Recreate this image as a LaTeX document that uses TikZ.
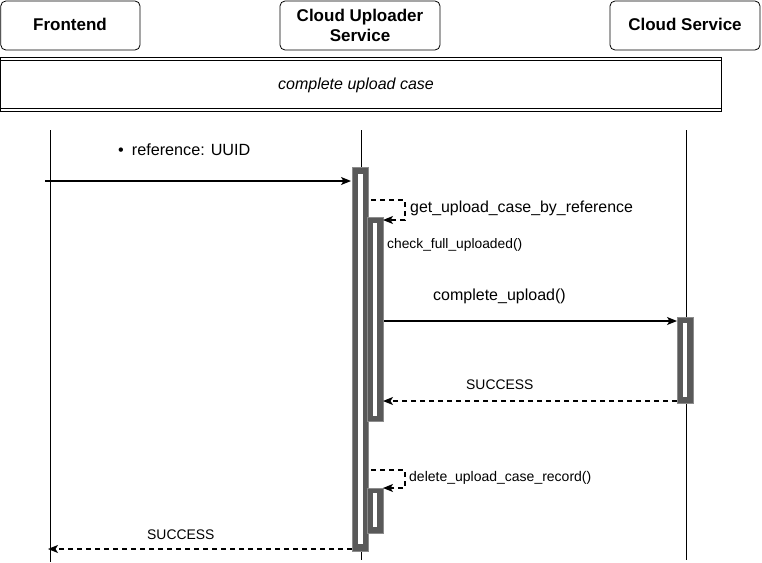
\documentclass[tikz,border=0pt]{standalone}
\usepackage{fontspec}
\setmainfont{Liberation Sans}
\usetikzlibrary{arrows.meta}
\definecolor{bardark}{HTML}{595959}
\definecolor{baredge}{HTML}{8C8C8C}
\tikzset{
  head/.style={draw=black, line width=0.8pt, rounded corners=5pt, fill=white},
  headtxt/.style={font=\fontsize{17}{20}\selectfont\bfseries, align=center},
  life/.style={draw=black, line width=0.8pt},
  msg/.style={draw=black, line width=1.2pt, -{Stealth[length=10pt,width=8pt,inset=2.5pt]}},
  ret/.style={msg, dash pattern=on 5pt off 4pt},
  lbl/.style={inner sep=0pt, anchor=west},
  barout/.style={fill=bardark, draw=baredge, line width=0.6pt},
  barin/.style={fill=white, draw=none},
}
\begin{document}
\begin{tikzpicture}[x=1pt,y=-1pt]
\useasboundingbox (0,0) rectangle (762,562);
% header boxes
\draw[head] (0.8,1) rectangle (140,50);
\node[headtxt] (fe) at (70,24.5) {Frontend};
\draw[head] (280,1) rectangle (440,50);
\node[headtxt] (cu) at (360,25) {Cloud Uploader\\Service};
\draw[head] (610,1) rectangle (760,50);
\node[headtxt] (cs) at (685,24.5) {Cloud Service};
% frame
\draw[line width=0.8pt] (0.5,57) -- (721,57);
\draw[line width=0.8pt] (0.5,60.5) -- (721,60.5);
\draw[line width=0.8pt] (0.5,108) -- (721,108);
\draw[line width=0.8pt] (0.5,111.5) -- (721,111.5);
\draw[line width=0.8pt] (0.5,57) -- (0.5,111.5);
\draw[line width=0.8pt] (721,57) -- (721,111.5);
\node[font=\fontsize{16}{18}\selectfont\itshape] (frame) at (356,85) {complete upload case};
% lifelines
\coordinate (feT) at (50,130); \coordinate (feB) at (50,562);
\coordinate (cuT) at (361,130); \coordinate (cuB) at (361,560);
\coordinate (csT) at (686,130); \coordinate (csB) at (686,560);
\draw[life] (feT) -- (feB);
\draw[life] (cuT) -- (cuB);
\draw[life] (csT) -- (csB);
% activation bars
\draw[barout] (352,167) rectangle (368,551);
\fill[barin] (358,174) rectangle (363,544);
\draw[barout] (367,217) rectangle (383,421);
\fill[barin] (373,223) rectangle (377,416);
\draw[barout] (367,488) rectangle (383,533);
\fill[barin] (373,493) rectangle (377,527);
\draw[barout] (677,317) rectangle (693,403);
\fill[barin] (683,323) rectangle (687,397);
% coordinates for message ends
\coordinate (m1s) at (45,181); \coordinate (m1e) at (351,181);
\coordinate (s1a) at (371,200); \coordinate (s1b) at (405,200);
\coordinate (s1c) at (405,220); \coordinate (s1d) at (383,220);
\coordinate (m2s) at (384,321); \coordinate (m2e) at (677,321);
\coordinate (r1s) at (677,401); \coordinate (r1e) at (383,401);
\coordinate (s2a) at (371,470); \coordinate (s2b) at (405,470);
\coordinate (s2c) at (405,488); \coordinate (s2d) at (383,488);
\coordinate (r2s) at (352,549); \coordinate (r2e) at (48,549);
% messages
\draw[msg] (m1s) -- (m1e);
\node[lbl, font=\fontsize{16.2}{18}\selectfont] (l1) at (118,150) {\textbullet\hspace{8pt}reference: UUID};
\draw[ret] (s1a) -- (s1b) -- (s1c) -- (s1d);
\node[lbl, font=\fontsize{15.9}{18}\selectfont] (l2) at (410,208) {get\_upload\_case\_by\_reference};
\node[lbl, font=\fontsize{13.8}{16}\selectfont] (l3) at (387,245) {check\_full\_uploaded()};
\draw[msg] (m2s) -- (m2e);
\node[lbl, font=\fontsize{16}{18}\selectfont] (l4) at (433,296) {complete\_upload()};
\draw[ret] (r1s) -- (r1e);
\node[lbl, font=\fontsize{13.9}{16}\selectfont] (l5) at (466,385) {SUCCESS};
\draw[ret] (s2a) -- (s2b) -- (s2c) -- (s2d);
\node[lbl, font=\fontsize{14}{16}\selectfont] (l6) at (409,478) {delete\_upload\_case\_record()};
\draw[ret] (r2s) -- (r2e);
\node[lbl, font=\fontsize{13.9}{16}\selectfont] (l7) at (147,535) {SUCCESS};
\end{tikzpicture}
\end{document}
